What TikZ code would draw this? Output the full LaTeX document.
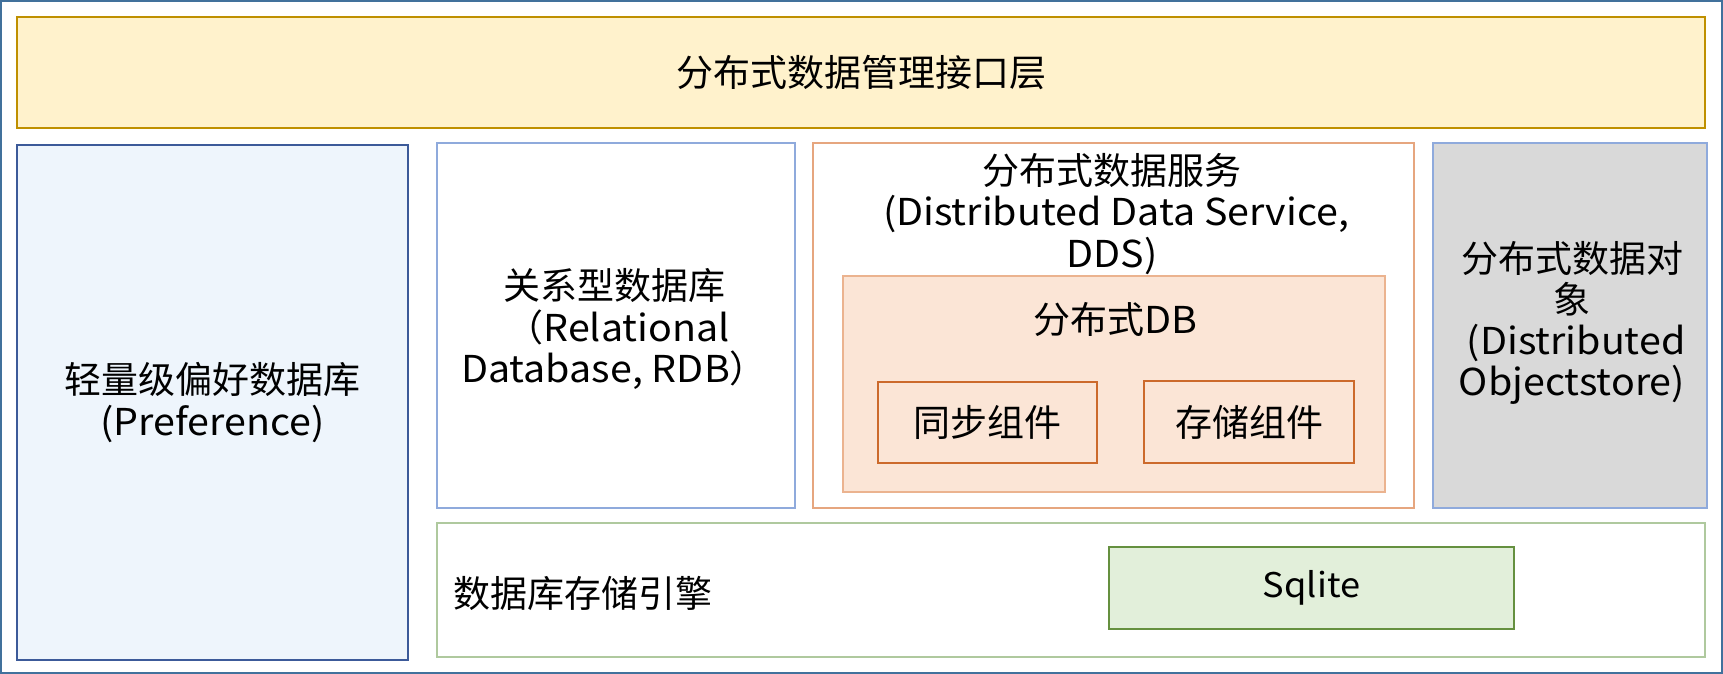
\documentclass[tikz,border=0pt]{standalone}
\usepackage{fontspec}
\setmainfont{Noto Sans CJK SC}
\newfontfamily\latfont[FakeStretch=1.065]{Noto Sans CJK SC}
\newcommand{\lat}[1]{{\latfont #1}}
\usepackage{tikz}

\definecolor{framecol}{HTML}{41719C}
\definecolor{apifill}{HTML}{FFF2CC}
\definecolor{apidraw}{HTML}{BF9000}
\definecolor{preffill}{HTML}{EEF5FC}
\definecolor{prefdraw}{HTML}{3C5A99}
\definecolor{lightblue}{HTML}{8FAADC}
\definecolor{ddsdraw}{HTML}{E6A67F}
\definecolor{ddbfill}{HTML}{FBE5D6}
\definecolor{ddbdraw}{HTML}{EBB38F}
\definecolor{compdraw}{HTML}{CC6A2C}
\definecolor{objfill}{HTML}{D9D9D9}
\definecolor{engdraw}{HTML}{AFC99E}
\definecolor{sqlfill}{HTML}{E2EFDA}
\definecolor{sqldraw}{HTML}{65903F}

\tikzset{
  layer/.style={draw, rectangle, inner sep=0pt, outer sep=0pt, line width=1pt, align=center},
  txt/.style={inner sep=0pt, align=center}
}

\begin{document}
\begin{tikzpicture}[x=0.5pt, y=-0.5pt, font=\fontsize{18.5}{20.6}\selectfont]
\useasboundingbox (0,0) rectangle (1723,674);
\draw[framecol, line width=1pt] (1,1) rectangle (1722,673);

% top layer
\node[layer, draw=apidraw, fill=apifill, minimum width=844pt, minimum height=55.5pt] (api) at (861,72.5) {分布式数据管理接口层};

% preference
\node[layer, draw=prefdraw, fill=preffill, minimum width=195.5pt, minimum height=257.5pt] (pref) at (212.5,402.5) {};
\node[txt] (preftxt) at (pref.center) {轻量级偏好数据库\\\lat{(Preference)}};

% rdb
\node[layer, draw=lightblue, line width=0.75pt, minimum width=179pt, minimum height=182.5pt] (rdb) at (616,325.5) {};
\node[txt] (rdbtxt) at (614,329) {关系型数据库\\\ （\lat{Relational}\\\lat{Database, RDB}）};

% dds
\node[layer, draw=ddsdraw, line width=0.75pt, minimum width=300.5pt, minimum height=182.5pt] (dds) at (1113.5,325.5) {};
\node[txt] (ddstxt) at (1112,214) {分布式数据服务\\\ \lat{(Distributed Data Service,}\\\lat{DDS)}};
\node[layer, draw=ddbdraw, fill=ddbfill, line width=0.75pt, minimum width=271pt, minimum height=108pt] (ddb) at (1114,384) {};
\node[txt] (ddbtxt) at (1115,319) {分布式\lat{DB}};
\node[layer, draw=compdraw, fill=ddbfill, line width=0.75pt, minimum width=109.5pt, minimum height=40.5pt] (sync) at (987.5,422.5) {同步组件};
\node[layer, draw=compdraw, fill=ddbfill, line width=0.75pt, minimum width=105pt, minimum height=41pt] (store) at (1249,422) {存储组件};

% object
\node[layer, draw=lightblue, fill=objfill, line width=0.75pt, minimum width=137pt, minimum height=182.5pt] (obj) at (1570,325.5) {};
\node[txt] (objtxt) at (1572,323) {分布式数据对\\象\\\ \lat{(Distributed}\\\lat{Objectstore)}};

% storage engine
\node[layer, draw=engdraw, minimum width=634pt, minimum height=67pt] (eng) at (1071,590) {};
\node[txt, anchor=west] (engtxt) at (453,593) {数据库存储引擎};
\node[layer, draw=sqldraw, fill=sqlfill, minimum width=202.5pt, minimum height=41pt, font=\fontsize{17}{19}\selectfont] (sqlite) at (1311.5,588) {\lat{Sqlite}};

\end{tikzpicture}
\end{document}
